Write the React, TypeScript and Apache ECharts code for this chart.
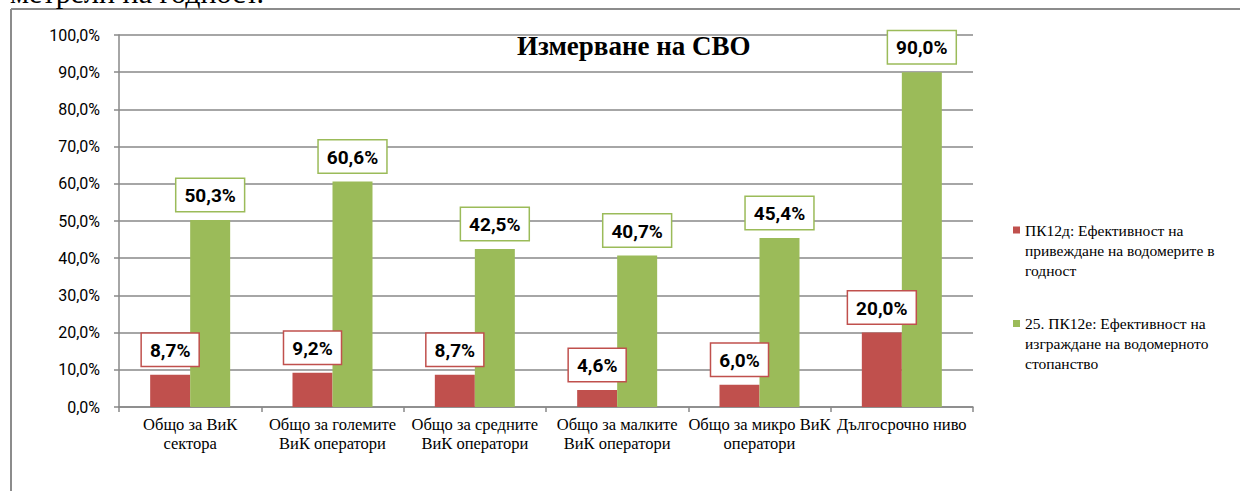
import React, { useEffect, useRef } from "react";
import * as echarts from "echarts";

const categories = [
  "Общо за ВиК\nсектора",
  "Общо за големите\nВиК оператори",
  "Общо за средните\nВиК оператори",
  "Общо за малките\nВиК оператори",
  "Общо за микро ВиК\nоператори",
  "Дългосрочно ниво",
];
const seriesNames = [
  "ПК12д: Ефективност на\nпривеждане на водомерите в\nгодност",
  "25. ПК12е: Ефективност на\nизграждане на водомерното\nстопанство",
];
const redValues = [8.7, 9.2, 8.7, 4.6, 6.0, 20.0];
const greenValues = [50.3, 60.6, 42.5, 40.7, 45.4, 90.0];
const titleText = "Измерване на СВО";
const topText = "метрели на годност.";

const RED = "#C0504D";
const GREEN = "#9BBB59";
const GRID = "#888888";
const SERIF = "Liberation Serif";
const SANS = "Roboto";

const fmt = (v: number) => v.toFixed(1).replace(".", ",") + "%";

export default function App() {
  const ref = useRef<HTMLDivElement>(null);
  useEffect(() => {
    if (!ref.current) return;
    const chart = echarts.init(ref.current, null, { renderer: "svg" });
    const label = (color: string) => ({
      show: true,
      position: "top" as const,
      distance: 9,
      formatter: (p: any) => fmt(p.value),
      fontFamily: SANS,
      fontWeight: "bold" as const,
      fontSize: 19,
      color: "#000",
      backgroundColor: "#fff",
      borderColor: color,
      borderWidth: 1.5,
      padding: [7, 8, 6, 8],
    });
    chart.setOption({
      animation: false,
      title: {
        text: titleText,
        left: 512,
        top: 27,
        textStyle: { fontFamily: SERIF, fontWeight: "bold", fontSize: 27, color: "#000" },
      },
      legend: {
        orient: "vertical",
        left: 1008,
        top: 175,
        itemWidth: 7,
        itemHeight: 7,
        itemGap: -6.5,
        itemTextGap: 4,
        icon: "rect",
        formatter: (name: string) => "\n\n" + name,
        textStyle: {
          fontFamily: SERIF,
          fontSize: 15.5,
          color: "#000",
          lineHeight: 20,
        },
        data: seriesNames,
      },
      grid: { left: 119, right: 267, top: 35, bottom: 84, containLabel: false },
      xAxis: {
        type: "category",
        data: categories,
        axisLine: { show: true, lineStyle: { color: GRID, width: 1.5 } },
        axisTick: { show: true, length: 5, lineStyle: { color: GRID, width: 1.5 } },
        axisLabel: {
          interval: 0,
          margin: 8,
          fontFamily: SERIF,
          fontSize: 16.5,
          lineHeight: 19,
          color: "#000",
        },
      },
      yAxis: {
        type: "value",
        min: 0,
        max: 100,
        interval: 10,
        axisLine: { show: true, lineStyle: { color: GRID, width: 1.5 } },
        axisTick: { show: true, length: 5, lineStyle: { color: GRID, width: 1.5 } },
        splitLine: { show: true, lineStyle: { color: GRID, width: 1.5 } },
        axisLabel: {
          margin: 19,
          formatter: (v: number) => fmt(v),
          fontFamily: SANS,
          fontSize: 16,
          color: "#000",
        },
      },
      series: [
        {
          name: seriesNames[0],
          type: "bar",
          data: redValues,
          barWidth: 40,
          barGap: "0%",
          itemStyle: { color: RED },
          label: label(RED),
        },
        {
          name: seriesNames[1],
          type: "bar",
          data: greenValues,
          barWidth: 40,
          barGap: "0%",
          itemStyle: { color: GREEN },
          label: label(GREEN),
        },
      ],
      graphic: [
        {
          type: "line",
          shape: { x1: 11, y1: 9, x2: 1240, y2: 9 },
          style: { stroke: "#8c8c8c", lineWidth: 2 },
          silent: true,
        },
        {
          type: "line",
          shape: { x1: 11, y1: 9, x2: 11, y2: 491 },
          style: { stroke: "#8c8c8c", lineWidth: 2 },
          silent: true,
        },
        {
          type: "text",
          left: 10,
          top: -23,
          style: { text: topText, fontFamily: SERIF, fontSize: 30, fill: "#000" },
          silent: true,
        },
      ],
    });
    return () => chart.dispose();
  }, []);
  return (
    <div
      ref={ref}
      style={{ position: "fixed", left: 0, top: 0, width: 1240, height: 491, background: "#fff" }}
    />
  );
}
